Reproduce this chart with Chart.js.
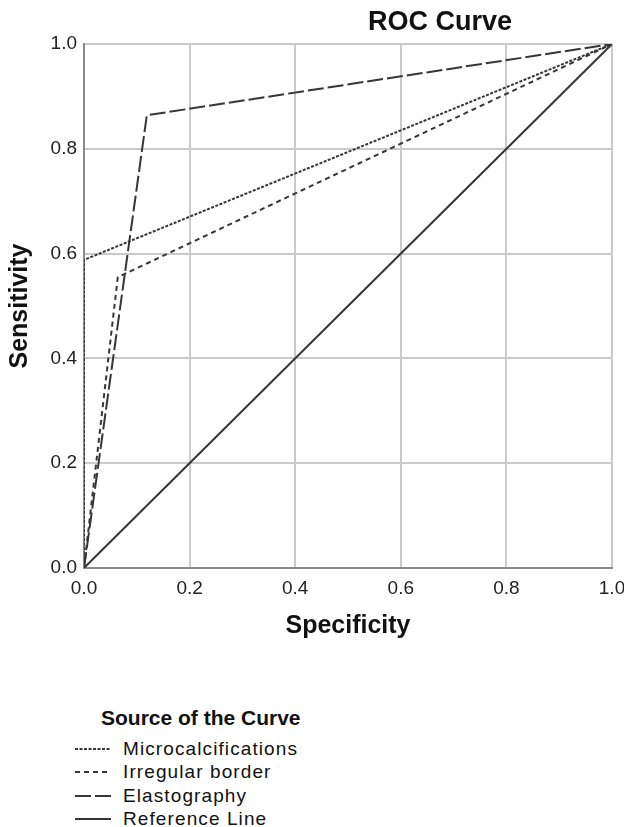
<!DOCTYPE html>
<html>
<head>
<meta charset="utf-8">
<script src="https://cdn.jsdelivr.net/npm/chart.js@4/dist/chart.umd.min.js"></script>
<style>
  body { margin:0; background:#fff; font-family:"Liberation Sans", Arial, sans-serif; }
  #wrap { position:relative; width:624px; height:827px; }
  #legend { position:absolute; left:75px; top:706px; color:#111; }
  #legend .ttl { font-weight:bold; font-size:21px; margin-left:26px; margin-bottom:7px; }
  #legend .row { display:flex; align-items:center; height:23.5px; font-size:19px; letter-spacing:1.1px; }
  #legend svg { width:36px; height:10px; margin-right:12px; }
</style>
</head>
<body>
<div id="wrap">
  <canvas id="roc" width="624" height="660"></canvas>
  <div id="legend"></div>
</div>
<script>
const ticks = [0, 0.2, 0.4, 0.6, 0.8, 1.0];

const microX = [0, 0, 1];
const microY = [0, 0.588, 1];
const irregX = [0, 0.064, 1];
const irregY = [0, 0.555, 1];
const elastoX = [0, 0.119, 1];
const elastoY = [0, 0.864, 1];
const refX = [0, 1];
const refY = [0, 1];

const series = [
  { label: "Microcalcifications", xs: microX, ys: microY, dash: [3, 1.5], width: 2 },
  { label: "Irregular border", xs: irregX, ys: irregY, dash: [5, 4], width: 2 },
  { label: "Elastography", xs: elastoX, ys: elastoY, dash: [16, 4], width: 2 },
  { label: "Reference Line", xs: refX, ys: refY, dash: [], width: 2 }
];

const lineColor = "#363636";
const font = "'Liberation Sans', Arial, sans-serif";

const titlePlugin = {
  id: "rocTitle",
  afterDraw(chart) {
    const ctx = chart.ctx;
    ctx.save();
    ctx.font = "bold 27px " + font;
    ctx.fillStyle = "#111";
    ctx.textAlign = "center";
    ctx.textBaseline = "middle";
    ctx.fillText("ROC Curve", 440, 23);
    ctx.restore();
  }
};

new Chart(document.getElementById("roc"), {
  type: "scatter",
  data: {
    datasets: series.map(s => ({
      label: s.label,
      data: s.xs.map((x, i) => ({ x, y: s.ys[i] })),
      showLine: true,
      borderColor: lineColor,
      borderWidth: s.width,
      borderDash: s.dash,
      pointRadius: 0,
      fill: false,
      tension: 0
    }))
  },
  options: {
    responsive: false,
    animation: false,
    layout: { padding: { top: 44, right: 12, left: 0, bottom: 0 } },
    plugins: { legend: { display: false }, tooltip: { enabled: false } },
    scales: {
      x: {
        type: "linear", min: 0, max: 1,
        afterBuildTicks: sc => { sc.ticks = ticks.map(v => ({ value: v })); },
        ticks: { callback: v => v.toFixed(1), color: "#222", font: { size: 19, family: font }, padding: 9, maxRotation: 0 },
        grid: { color: "#cacaca", lineWidth: 2, drawTicks: false },
        border: { color: "#8a8a8a", width: 2 },
        title: { display: true, text: "Specificity", color: "#111", font: { size: 25, weight: "bold", family: font }, padding: { top: 4, bottom: 19 } },
        afterFit: sc => { sc.height = 92; sc.paddingRight = 12; sc.paddingLeft = 0; }
      },
      y: {
        type: "linear", min: 0, max: 1,
        afterBuildTicks: sc => { sc.ticks = ticks.map(v => ({ value: v })); },
        ticks: { callback: v => v.toFixed(1), color: "#222", font: { size: 19, family: font }, padding: 7 },
        grid: { color: "#cacaca", lineWidth: 2, drawTicks: false },
        border: { color: "#8a8a8a", width: 2 },
        title: { display: true, text: "Sensitivity", color: "#111", font: { size: 25, weight: "bold", family: font }, padding: { top: 5, bottom: 0 } },
        afterFit: sc => { sc.width = 84; sc.paddingTop = 0; sc.paddingBottom = 0; }
      }
    }
  },
  plugins: [titlePlugin]
});

const legend = document.getElementById("legend");
legend.innerHTML = `<div class="ttl">Source of the Curve</div>` + series.map(s => `
  <div class="row">
    <svg viewBox="0 0 36 10"><line x1="0" y1="5" x2="36" y2="5" stroke="${lineColor}" stroke-width="${s.width}" stroke-dasharray="${s.dash.join(",")}"/></svg>
    <span>${s.label}</span>
  </div>`).join("");
</script>
</body>
</html>
